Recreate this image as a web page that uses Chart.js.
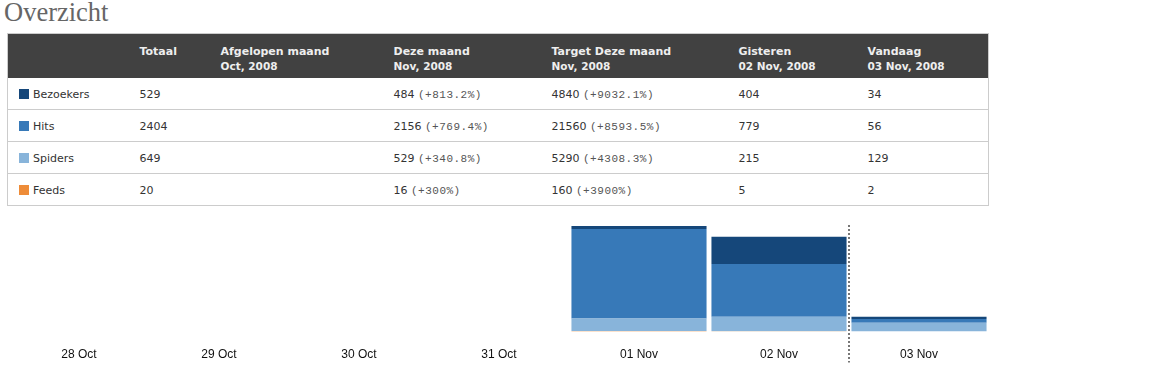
<!DOCTYPE html>
<html>
<head>
<meta charset="utf-8">
<script src="https://cdn.jsdelivr.net/npm/chart.js@4/dist/chart.umd.min.js"></script>
<style>
  body { margin: 0; background: #fff; width: 1173px; height: 384px; overflow: hidden; position: relative; }
  h1 { position: absolute; left: 4px; top: -3px; margin: 0; font: normal 26.5px "Liberation Serif", serif; color: #666; }
  table.overview { position: absolute; left: 7px; top: 33px; width: 981px; border-collapse: collapse; table-layout: fixed; border: 1px solid #ccc; font-family: "DejaVu Sans", Verdana, sans-serif; }
  table.overview th { background: #414141; color: #eee; font-size: 11px; font-weight: bold; text-align: left; vertical-align: top; height: 44px; padding: 11px 0 0 0; box-sizing: border-box; line-height: 14px; }
  table.overview th small { font-size: 10.5px; }
  table.overview td { height: 32px; border-bottom: 1px solid #ccc; font-size: 11px; color: #333; padding: 2px 0 0 0; box-sizing: border-box; }
  table.overview td.name { padding-left: 11px; }
  .sq { display: inline-block; width: 10px; height: 10px; vertical-align: -1px; margin-right: 4px; }
  .pct { font: 11px "Liberation Mono", "Courier New", monospace; color: #555; letter-spacing: 0.5px; }
  #wrap { position: absolute; left: 9px; top: 215px; width: 980px; height: 165px; }
</style>
</head>
<body>
<h1>Overzicht</h1>
<table class="overview" id="overview">
  <colgroup>
    <col style="width:132px"><col style="width:81px"><col style="width:173px"><col style="width:158px"><col style="width:187px"><col style="width:129px"><col style="width:121px">
  </colgroup>
  <thead>
    <tr>
      <th></th>
      <th>Totaal</th>
      <th>Afgelopen maand<br><small>Oct, 2008</small></th>
      <th>Deze maand<br><small>Nov, 2008</small></th>
      <th>Target Deze maand<br><small>Nov, 2008</small></th>
      <th>Gisteren<br><small>02 Nov, 2008</small></th>
      <th>Vandaag<br><small>03 Nov, 2008</small></th>
    </tr>
  </thead>
  <tbody id="rows"></tbody>
</table>
<div id="wrap"><canvas id="trafficChart"></canvas></div>

<script>
// days shown on the x axis
const days = ['28 Oct', '29 Oct', '30 Oct', '31 Oct', '01 Nov', '02 Nov', '03 Nov'];

// series per day
const bezoekers = [0, 0, 0, 0, 46, 404, 34];
const hits      = [0, 0, 0, 0, 1321, 779, 56];
const spiders   = [0, 0, 0, 0, 185, 215, 129];
const feeds     = [0, 0, 0, 0, 9, 5, 2];

// table figures
const seriesNames = ['Bezoekers', 'Hits', 'Spiders', 'Feeds'];
const seriesColors = ['#15477a', '#3779b8', '#88b4da', '#ee8c38'];
const totaal = ['529', '2404', '649', '20'];
const dezeMaand = ['484', '2156', '529', '16'];
const dezeMaandPct = ['(+813.2%)', '(+769.4%)', '(+340.8%)', '(+300%)'];
const target = ['4840', '21560', '5290', '160'];
const targetPct = ['(+9032.1%)', '(+8593.5%)', '(+4308.3%)', '(+3900%)'];
const gisteren = ['404', '779', '215', '5'];
const vandaag = ['34', '56', '129', '2'];

const tbody = document.getElementById('rows');
seriesNames.forEach((name, i) => {
  const tr = document.createElement('tr');
  tr.innerHTML =
    '<td class="name"><span class="sq" style="background:' + seriesColors[i] + '"></span>' + name + '</td>' +
    '<td>' + totaal[i] + '</td>' +
    '<td></td>' +
    '<td>' + dezeMaand[i] + ' <span class="pct">' + dezeMaandPct[i] + '</span></td>' +
    '<td>' + target[i] + ' <span class="pct">' + targetPct[i] + '</span></td>' +
    '<td>' + gisteren[i] + '</td>' +
    '<td>' + vandaag[i] + '</td>';
  tbody.appendChild(tr);
});

// dotted line before "today"
const todayLine = {
  id: 'todayLine',
  afterDatasetsDraw(chart) {
    const x = chart.scales.x;
    const area = chart.chartArea;
    const px = (x.getPixelForValue(5) + x.getPixelForValue(6)) / 2;
    const ctx = chart.ctx;
    ctx.save();
    ctx.strokeStyle = '#777';
    ctx.lineWidth = 2;
    ctx.setLineDash([2, 2]);
    ctx.beginPath();
    ctx.moveTo(px, area.top);
    ctx.lineTo(px, area.bottom + 31);
    ctx.stroke();
    ctx.restore();
  }
};

const ctx = document.getElementById('trafficChart').getContext('2d');
new Chart(ctx, {
  type: 'bar',
  data: {
    labels: days,
    datasets: [
      { label: 'Feeds', data: feeds, backgroundColor: seriesColors[3] },
      { label: 'Spiders', data: spiders, backgroundColor: seriesColors[2] },
      { label: 'Hits', data: hits, backgroundColor: seriesColors[1] },
      { label: 'Bezoekers', data: bezoekers, backgroundColor: seriesColors[0] }
    ]
  },
  options: {
    responsive: true,
    maintainAspectRatio: false,
    animation: false,
    layout: { padding: { top: 10, bottom: 10, left: 0, right: 0 } },
    datasets: { bar: { categoryPercentage: 0.965, barPercentage: 1, borderWidth: 0 } },
    plugins: { legend: { display: false }, tooltip: { enabled: false } },
    scales: {
      x: {
        stacked: true,
        grid: { display: false },
        border: { display: false },
        ticks: { color: '#111', padding: 8, maxRotation: 0, font: { family: 'Liberation Sans', size: 12 } }
      },
      y: {
        stacked: true,
        display: false,
        min: 0,
        max: 1575
      }
    }
  },
  plugins: [todayLine]
});
</script>
</body>
</html>
